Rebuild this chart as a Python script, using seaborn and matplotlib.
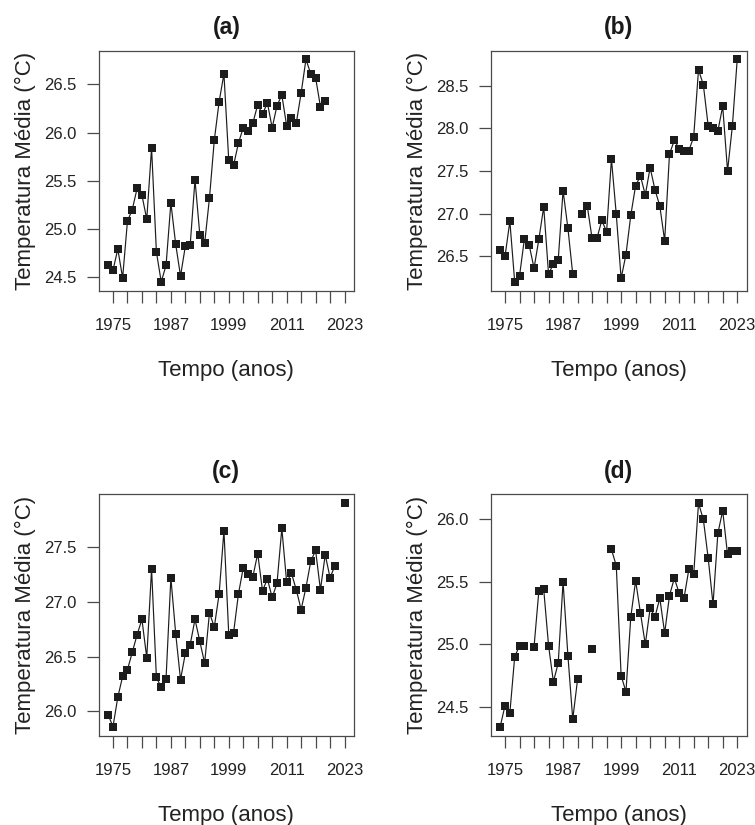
import numpy as np
import pandas as pd
import matplotlib
matplotlib.use("Agg")
import matplotlib.pyplot as plt
import seaborn as sns

nan = np.nan
years = list(range(1974, 2024))

temp_a = [24.62, 24.57, 24.79, 24.49, 25.08, 25.20, 25.42, 25.35, 25.10, 25.84,
          24.76, 24.45, 24.62, 25.27, 24.84, 24.51, 24.82, 24.83, 25.51, 24.94,
          24.85, 25.32, 25.92, 26.32, 26.61, 25.71, 25.66, 25.89, 26.05, 26.02,
          26.10, 26.29, 26.19, 26.31, 26.05, 26.28, 26.39, 26.07, 26.15, 26.10,
          26.41, 26.76, 26.61, 26.57, 26.27, 26.33, nan, nan, nan, nan]
temp_b = [26.57, 26.50, 26.91, 26.20, 26.27, 26.70, 26.63, 26.36, 26.70, 27.08,
          26.29, 26.41, 26.46, 27.27, 26.83, 26.29, nan, 27.00, 27.09, 26.71,
          26.71, 26.92, 26.79, 27.64, 26.99, 26.24, 26.52, 26.98, 27.33, 27.44,
          27.22, 27.54, 27.28, 27.09, 26.68, 27.70, 27.86, 27.76, 27.73, 27.74,
          27.90, 28.69, 28.51, 28.03, 28.01, 27.97, 28.26, 27.50, 28.03, 28.81]
temp_c = [25.97, 25.86, 26.13, 26.32, 26.38, 26.54, 26.70, 26.84, 26.49, 27.30,
          26.31, 26.22, 26.30, 27.22, 26.71, 26.29, 26.53, 26.61, 26.84, 26.64,
          26.44, 26.90, 26.77, 27.07, 27.65, 26.70, 26.72, 27.07, 27.31, 27.25,
          27.23, 27.44, 27.10, 27.21, 27.04, 27.17, 27.67, 27.18, 27.26, 27.11,
          26.93, 27.13, 27.37, 27.47, 27.11, 27.43, 27.22, 27.33, nan, 27.90]
temp_d = [24.34, 24.51, 24.45, 24.90, 24.99, 24.99, nan, 24.98, 25.43, 25.44,
          24.99, 24.70, 24.85, 25.50, 24.91, 24.40, 24.72, nan, nan, 24.96,
          nan, nan, nan, 25.76, 25.63, 24.75, 24.62, 25.22, 25.51, 25.25,
          25.00, 25.29, 25.22, 25.37, 25.09, 25.39, 25.53, 25.41, 25.37, 25.60,
          25.56, 26.13, 26.00, 25.69, 25.32, 25.89, 26.07, 25.72, 25.75, 25.75]

panel_titles = ["(a)", "(b)", "(c)", "(d)"]
series = [temp_a, temp_b, temp_c, temp_d]
yticks_list = [[24.5, 25.0, 25.5, 26.0, 26.5],
               [26.5, 27.0, 27.5, 28.0, 28.5],
               [26.0, 26.5, 27.0, 27.5],
               [24.5, 25.0, 25.5, 26.0]]
xtick_positions = list(range(1975, 2024, 3))
xtick_labels_shown = [1975, 1987, 1999, 2011, 2023]
xlabel = "Tempo (anos)"
ylabel = "Temperatura Média (°C)"

sns.set_style("ticks")
plt.rcParams["font.family"] = ["Liberation Sans", "DejaVu Sans"]

fig = plt.figure(figsize=(7.55, 8.25), dpi=100)
boxes = [(98.7, 50.5, 354.0, 290.7), (490.7, 50.5, 746.7, 290.7),
         (98.7, 494.3, 354.0, 735.7), (490.7, 494.3, 746.7, 735.7)]
W, H = 755.0, 825.0

edge = "#4a4a4a"
mark = "#1c1c1c"
for (l, t, r, b), title, vals, yt in zip(boxes, panel_titles, series, yticks_list):
    ax = fig.add_axes([l / W, 1 - b / H, (r - l) / W, (b - t) / H])
    df = pd.DataFrame({"year": years, "temp": vals})
    df["seg"] = df["temp"].isna().cumsum()
    df = df.dropna()
    sns.lineplot(data=df, x="year", y="temp", units="seg", estimator=None,
                 color=mark, marker="s", markersize=5.4, markeredgewidth=0,
                 linewidth=0.85, ax=ax, legend=False)
    span = years[-1] - years[0]
    ax.set_xlim(years[0] - 0.04 * span, years[-1] + 0.04 * span)
    ax.margins(y=0.04)
    ax.set_xticks(xtick_positions)
    ax.set_xticklabels([str(y) if y in xtick_labels_shown else "" for y in xtick_positions])
    ax.set_yticks(yt)
    ax.set_yticklabels([f"{v:.1f}" for v in yt])
    ax.tick_params(axis="both", direction="out", length=8.3, width=0.9,
                   color=edge, labelsize=12, labelcolor="#222222")
    ax.tick_params(axis="x", pad=11)
    ax.tick_params(axis="y", pad=7.5)
    for s in ax.spines.values():
        s.set_visible(True)
        s.set_color(edge)
        s.set_linewidth(0.9)
    ax.set_title(title, fontsize=16.5, fontweight="bold", pad=12, color="#1a1a1a")
    ax.set_xlabel(xlabel, fontsize=16, labelpad=20, color="#222222")
    ax.set_ylabel(ylabel, fontsize=16, labelpad=6, color="#222222")

fig.savefig("out.png", dpi=100)
